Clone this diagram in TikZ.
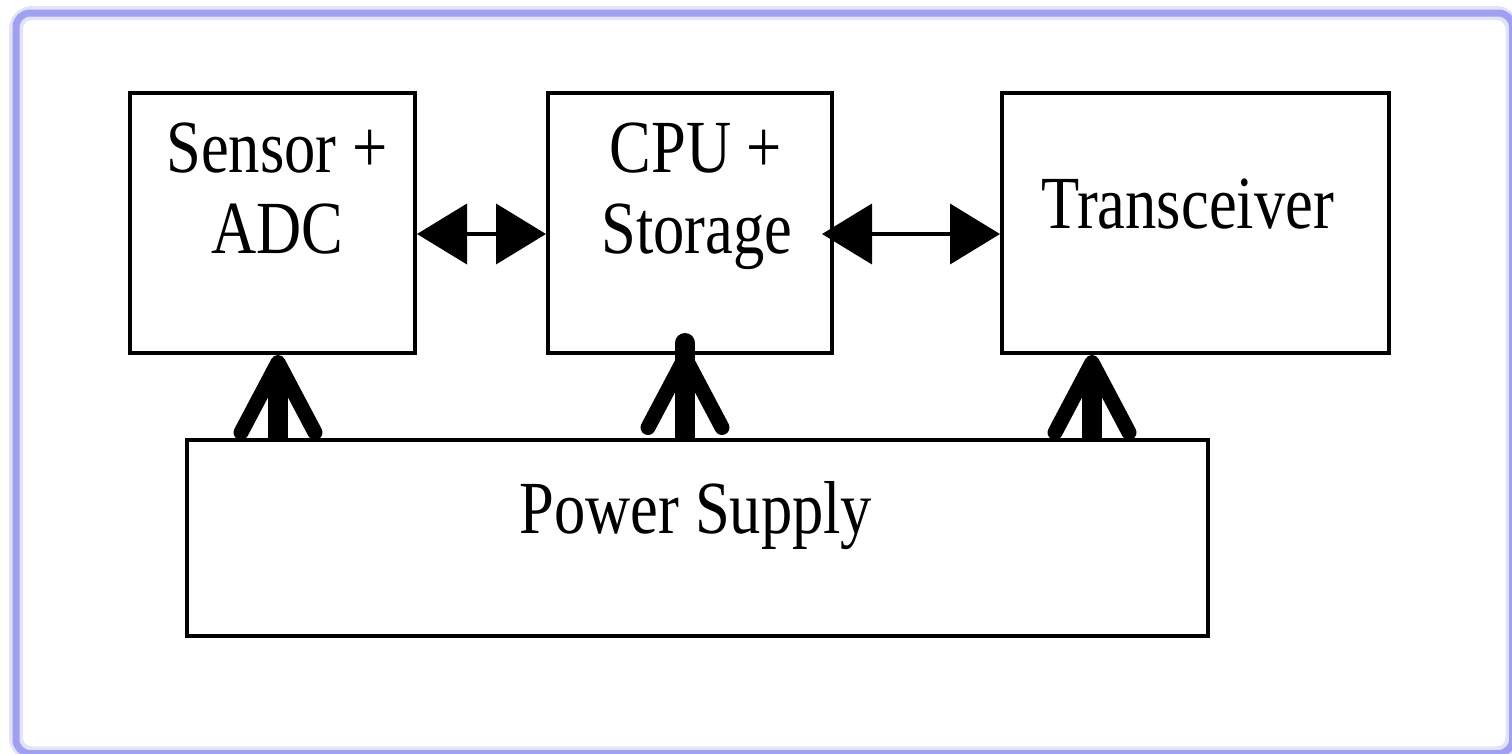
\documentclass[tikz,border=0pt]{standalone}
\usepackage{fontspec}
\setmainfont{Liberation Serif}
\usetikzlibrary{arrows.meta}
\definecolor{framecol}{RGB}{160,160,240}
\begin{document}
\begin{tikzpicture}[x=1pt,y=-1pt,
  box/.style={draw=black, line width=4pt, inner sep=0pt, fill=white},
  lbl/.style={anchor=base, inner sep=0pt, font=\fontsize{62.5}{80}\selectfont},
  harrow/.style={line width=4pt, {Triangle[length=50pt,width=60pt]}-{Triangle[length=50pt,width=60pt]}},
  varrow/.style={line width=20pt, -{Straight Barb[length=70pt,width=74pt,line width=15pt,round]}}]
\clip (0,0) rectangle (1512,753);
\fill[white] (0,0) rectangle (1512,753);
\draw[framecol!30, line width=14pt, rounded corners=16pt] (16,13) rectangle (1512.5,753.5);
\draw[framecol, line width=7pt, rounded corners=14pt] (16,13) rectangle (1512.5,753.5);
% boxes
\node[box, minimum width=285pt, minimum height=260pt] (sensor) at (272.5,223) {};
\node[box, minimum width=284pt, minimum height=260pt] (cpu) at (690,223) {};
\node[box, minimum width=387pt, minimum height=260pt] (trans) at (1195.5,223) {};
\node[box, minimum width=1021pt, minimum height=196pt] (ps) at (697.5,538) {};
% labels
\node[lbl] (t1) at (277,172) {\scalebox{1}[1.2]{Sensor +}};
\node[lbl] (t2) at (277.5,253) {\scalebox{1}[1.2]{ADC}};
\node[lbl] (t3) at (696,172) {\scalebox{1}[1.2]{CPU +}};
\node[lbl] (t4) at (697,253) {\scalebox{1}[1.2]{Storage}};
\node[lbl] (t5) at (1187.5,228) {\scalebox{1}[1.2]{Transceiver}};
\node[lbl] (t6) at (696,533) {\scalebox{1}[1.2]{Power Supply}};
% horizontal arrows
\draw[harrow] ([yshift=-11pt]sensor.east) -- ([yshift=-11pt]cpu.west);
\draw[harrow] ([xshift=-12pt,yshift=-11pt]cpu.east) -- ([yshift=-11pt]trans.west);
% vertical arrows
\draw[varrow] ([xshift=5.5pt]sensor.south |- ps.north) -- ([xshift=5.5pt]sensor.south);
\draw[varrow] ([xshift=-5pt]cpu.south |- ps.north) -- ([xshift=-5pt,yshift=5pt]cpu.south);
\draw[line width=20pt, line cap=round] ([xshift=-5pt,yshift=12pt]cpu.south) -- ([xshift=-5pt,yshift=-10pt]cpu.south);
\draw[varrow] ([xshift=-103.5pt]trans.south |- ps.north) -- ([xshift=-103.5pt]trans.south);
\end{tikzpicture}
\end{document}
